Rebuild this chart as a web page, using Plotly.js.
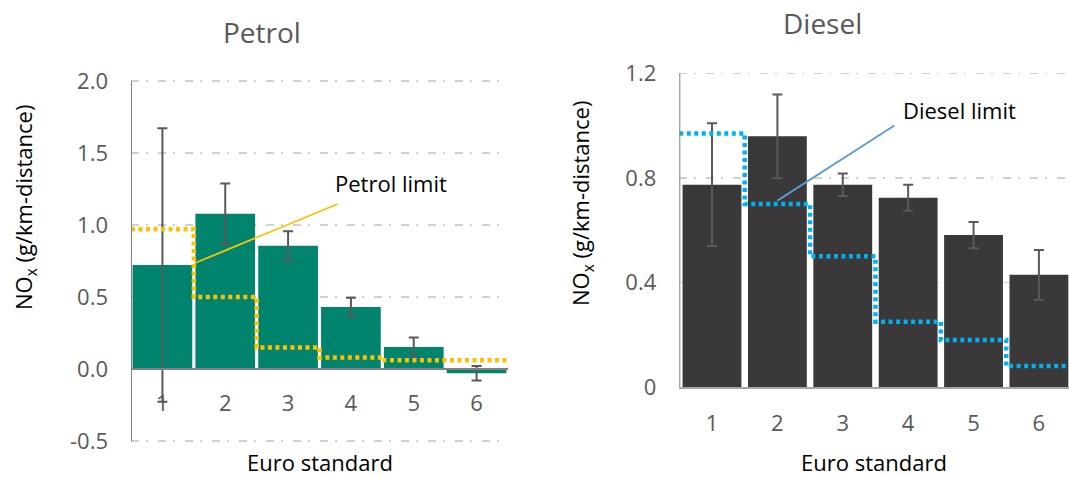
<!DOCTYPE html>
<html>
<head>
<meta charset="utf-8">
<script src="https://cdn.plot.ly/plotly-3.0.1.min.js"></script>
<style>html,body{margin:0;padding:0;background:#fff;}#chart{width:1069px;height:477px;}</style>
</head>
<body>
<div id="chart"></div>
<script>
// ---- data ----
const euroStandards = [1, 2, 3, 4, 5, 6];
const petrolNOx = [0.722, 1.078, 0.856, 0.430, 0.153, -0.030];
const petrolErr = [0.95, 0.21, 0.10, 0.065, 0.065, 0.05];
const petrolLimit = [0.97, 0.50, 0.15, 0.08, 0.06, 0.06];
const dieselNOx = [0.774, 0.959, 0.774, 0.724, 0.581, 0.429];
const dieselErr = [0.235, 0.16, 0.043, 0.05, 0.05, 0.095];
const dieselLimit = [0.97, 0.70, 0.50, 0.25, 0.18, 0.08];
const petrolTicks = [-0.5, 0.0, 0.5, 1.0, 1.5, 2.0];
const petrolTickText = ['-0.5', '0.0', '0.5', '1.0', '1.5', '2.0'];
const dieselTicks = [0, 0.4, 0.8, 1.2];
const dieselTickText = ['0', '0.4', '0.8', '1.2'];

// step-line edges built from categories
const edges = euroStandards.map(c => c - 0.5).concat([euroStandards[euroStandards.length - 1] + 0.5]);
const stepY = arr => arr.concat([arr[arr.length - 1]]);

const W = 1069, H = 477;
const FONT = 'Open Sans, sans-serif';
const GRAY = '#595959';
const GRID = '#d0d0d0';

const traces = [
  {
    type: 'bar', x: euroStandards, y: petrolNOx, width: 0.95,
    marker: {color: '#00846e'},
    error_y: {type: 'data', array: petrolErr, visible: true, color: GRAY, thickness: 2, width: 5},
    xaxis: 'x', yaxis: 'y', hoverinfo: 'x+y'
  },
  {
    type: 'scatter', mode: 'lines', x: edges, y: stepY(petrolLimit),
    line: {shape: 'hv', color: '#FFC000', width: 4.5, dash: '4px,3.5px'},
    xaxis: 'x', yaxis: 'y'
  },
  {
    type: 'bar', x: euroStandards, y: dieselNOx, width: 0.9,
    marker: {color: '#3a3838'},
    error_y: {type: 'data', array: dieselErr, visible: true, color: GRAY, thickness: 2, width: 5},
    xaxis: 'x2', yaxis: 'y2'
  },
  {
    type: 'scatter', mode: 'lines', x: edges, y: stepY(dieselLimit),
    line: {shape: 'hv', color: '#00B0F0', width: 4.5, dash: '4px,3.5px'},
    xaxis: 'x2', yaxis: 'y2'
  }
];

const tickFont = {family: FONT, size: 22, color: GRAY};
const layout = {
  width: W, height: H,
  margin: {l: 0, r: 0, t: 0, b: 0},
  paper_bgcolor: '#fff', plot_bgcolor: 'rgba(0,0,0,0)',
  showlegend: false,
  xaxis: {
    domain: [131 / W, 508 / W], range: [0.5, 6.5],
    tickvals: euroStandards, ticktext: euroStandards.map(String),
    tickfont: tickFont, showgrid: false, zeroline: false,
    showline: true, linecolor: '#808080', linewidth: 2,
    anchor: 'free', position: (477 - 369) / H, ticks: '', ticklabelstandoff: 15,
    layer: 'above traces', fixedrange: true
  },
  yaxis: {
    domain: [34 / H, 398 / H], range: [-0.514, 2.014],
    tickvals: petrolTicks, ticktext: petrolTickText, tickfont: tickFont,
    showgrid: true, gridcolor: GRID, gridwidth: 1.5, griddash: '8px,7px,2px,10px',
    zeroline: false, showline: false,
    anchor: 'x', ticks: '', ticklabelstandoff: 22, fixedrange: true
  },
  xaxis2: {
    domain: [679.3 / W, 1], range: [0.5, 6.46],
    tickvals: euroStandards, ticktext: euroStandards.map(String),
    tickfont: tickFont, showgrid: false, zeroline: false,
    showline: true, linecolor: '#a6a6a6', linewidth: 2,
    anchor: 'y2', ticks: '', ticklabelstandoff: 16,
    layer: 'above traces', fixedrange: true
  },
  yaxis2: {
    domain: [90 / H, 405.7 / H], range: [0, 1.2077],
    tickvals: dieselTicks, ticktext: dieselTickText, tickfont: tickFont,
    showgrid: true, gridcolor: GRID, gridwidth: 1.5, griddash: '8px,7px,2px,10px',
    zeroline: false, showline: false,
    anchor: 'x2', ticks: '', ticklabelstandoff: 22, fixedrange: true
  },
  shapes: [
    // left value axis line (from -0.5 to 2.0)
    {type: 'line', xref: 'x', yref: 'y', x0: 0.5, x1: 0.5, y0: petrolTicks[0], y1: petrolTicks[petrolTicks.length - 1],
     line: {color: '#808080', width: 2}},
    {type: 'line', xref: 'x2', yref: 'y2', x0: 0.5, x1: 0.5, y0: dieselTicks[0], y1: dieselTicks[dieselTicks.length - 1],
     line: {color: '#808080', width: 2}},
    {type: 'line', xref: 'x', yref: 'y', x0: 1.52, y0: 0.736, x1: 3.79, y1: 1.146,
     line: {color: '#FFC000', width: 1.8}},
    {type: 'line', xref: 'x2', yref: 'y2', x0: 2.0, y0: 0.713, x1: 3.79, y1: 1.0,
     line: {color: '#5B9BD5', width: 1.8}}
  ],
  annotations: [
    {text: 'Petrol', xref: 'paper', yref: 'paper', x: 262 / W, y: (H - 32) / H,
     showarrow: false, font: {family: FONT, size: 28, color: GRAY}, xanchor: 'center', yanchor: 'middle'},
    {text: 'Diesel', xref: 'paper', yref: 'paper', x: 822 / W, y: (H - 23) / H,
     showarrow: false, font: {family: FONT, size: 28, color: GRAY}, xanchor: 'center', yanchor: 'middle'},
    {text: 'NO<sub>x</sub> (g/km-distance)', xref: 'paper', yref: 'paper', x: 25 / W, y: (H - 208) / H,
     textangle: -90, showarrow: false, font: {family: FONT, size: 22, color: '#000'}, xanchor: 'center', yanchor: 'middle'},
    {text: 'NO<sub>x</sub> (g/km-distance)', xref: 'paper', yref: 'paper', x: 582 / W, y: (H - 204) / H,
     textangle: -90, showarrow: false, font: {family: FONT, size: 22, color: '#000'}, xanchor: 'center', yanchor: 'middle'},
    {text: 'Euro standard', xref: 'paper', yref: 'paper', x: 320 / W, y: (H - 462) / H,
     showarrow: false, font: {family: FONT, size: 22, color: '#000'}, xanchor: 'center', yanchor: 'middle'},
    {text: 'Euro standard', xref: 'paper', yref: 'paper', x: 874 / W, y: (H - 462) / H,
     showarrow: false, font: {family: FONT, size: 22, color: '#000'}, xanchor: 'center', yanchor: 'middle'},
    {text: 'Petrol limit', xref: 'x', yref: 'y', x: 4.64, y: 1.29,
     showarrow: false, font: {family: FONT, size: 22, color: '#000'}, xanchor: 'center', yanchor: 'middle'},
    {text: 'Diesel limit', xref: 'x2', yref: 'y2', x: 4.78, y: 1.061,
     showarrow: false, font: {family: FONT, size: 22, color: '#000'}, xanchor: 'center', yanchor: 'middle'}
  ]
};

Plotly.newPlot('chart', traces, layout, {displayModeBar: false, staticPlot: true});
</script>
</body>
</html>
